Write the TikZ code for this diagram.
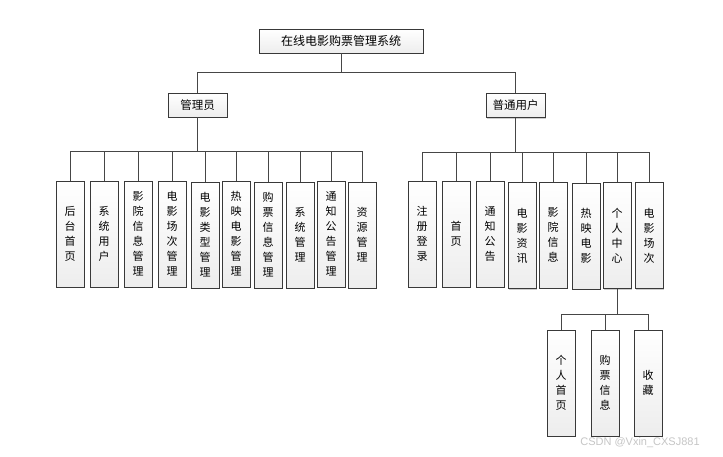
\documentclass[tikz,border=0pt]{standalone}
\usepackage{fontspec}
\newfontfamily\cjk{Noto Sans CJK SC}
\newfontfamily\wm{Liberation Sans}
\usetikzlibrary{shadows}
\tikzset{
  box/.style={draw=gray!45!black, line width=0.8pt, top color=white, bottom color=gray!14,
    drop shadow={shadow xshift=1.2pt, shadow yshift=-1.2pt, fill=gray!55, opacity=0.7},
    inner sep=0pt, font=\cjk\fontsize{11.5}{14}\selectfont},
  hbox/.style={box, minimum width=59pt, minimum height=24pt},
  vb/.style={box, minimum width=28pt, minimum height=106pt, align=center,
    font=\cjk\fontsize{11}{15}\selectfont},
  conn/.style={draw=gray!55!black, line width=0.8pt}
}
\begin{document}
\begin{tikzpicture}[x=1pt,y=-1pt]
\useasboundingbox[fill=white] (0,0) rectangle (723,456);
\coordinate (topbar) at (0,72);
\coordinate (mbar) at (0,151);
\coordinate (ubar) at (0,152);
\coordinate (pbar) at (0,314);

\node[hbox, minimum width=164pt, font=\cjk\fontsize{12}{14}\selectfont] (root) at (341,41) {在线电影购票管理系统};
\node[hbox] (m) at (197.5,105) {管理员};
\node[hbox] (u) at (515.5,105.5) {普通用户};

% admin children
\node[vb] (a1) at (70,234) {后\\台\\首\\页};
\node[vb] (a2) at (104,234) {系\\统\\用\\户};
\node[vb] (a3) at (138,234) {影\\院\\信\\息\\管\\理};
\node[vb] (a4) at (172,234) {电\\影\\场\\次\\管\\理};
\node[vb] (a5) at (205,235) {电\\影\\类\\型\\管\\理};
\node[vb] (a6) at (236,234) {热\\映\\电\\影\\管\\理};
\node[vb] (a7) at (268,235) {购\\票\\信\\息\\管\\理};
\node[vb] (a8) at (300,235) {系\\统\\管\\理};
\node[vb] (a9) at (331,234) {通\\知\\公\\告\\管\\理};
\node[vb] (a10) at (362,235) {资\\源\\管\\理};

% user children
\node[vb] (b1) at (422,234) {注\\册\\登\\录};
\node[vb] (b2) at (456,234) {首\\页};
\node[vb] (b3) at (490,234) {通\\知\\公\\告};
\node[vb] (b4) at (522,235.5) {电\\影\\资\\讯};
\node[vb] (b5) at (553,235) {影\\院\\信\\息};
\node[vb] (b6) at (586,236) {热\\映\\电\\影};
\node[vb] (b7) at (617,235.5) {个\\人\\中\\心};
\node[vb] (b8) at (649,235.5) {电\\影\\场\\次};

% personal center children
\node[vb] (c1) at (561,383) {个\\人\\首\\页};
\node[vb] (c2) at (605,383) {购\\票\\信\\息};
\node[vb] (c3) at (648,383) {收\\藏};

\foreach \c in {m,u} \draw[conn] (root.south) -- (root.south |- topbar) -| (\c.north);
\foreach \c in {a1,a2,a3,a4,a5,a6,a7,a8,a9,a10} \draw[conn] (m.south) -- (m.south |- mbar) -| (\c.north);
\foreach \c in {b1,b2,b3,b4,b5,b6,b7,b8} \draw[conn] (u.south) -- (u.south |- ubar) -| (\c.north);
\foreach \c in {c1,c2,c3} \draw[conn] (b7.south) -- (b7.south |- pbar) -| (\c.north);

\node[font=\wm\fontsize{11}{13}\selectfont, text=gray!45, inner sep=0pt] (wmk) at (640,443) {CSDN @Vxin\_CXSJ881};
\end{tikzpicture}
\end{document}
